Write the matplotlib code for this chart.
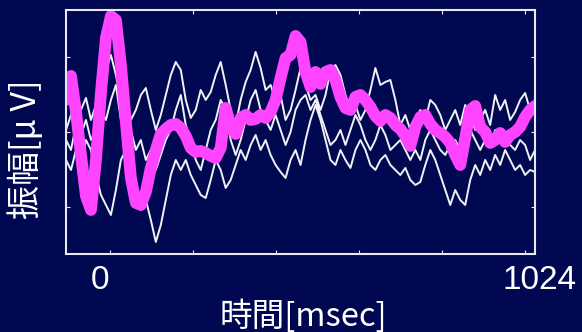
import numpy as np
import matplotlib
matplotlib.use("Agg")
import matplotlib.pyplot as plt

plt.rcParams["font.family"] = ["Noto Sans CJK JP", "DejaVu Sans"]

# time axis [msec] and amplitudes [uV]
t_start, t_end = -80, 1024

white_1 = [0.5, 2.0, 3.5, 2.5, 3.7, 1.5, 3.0, 4.5, 6.5, 8.0, 6.0, 3.5, 4.5, 1.5, 2.5, 4.0,
           4.7, 2.5, 0.5, 2.0, 4.0, 6.0, 7.3, 6.5, 3.5, 1.7, 2.5, 4.5, 3.5, 4.3, 6.0, 7.3,
           5.0, 2.5, 1.0, 3.5, 5.3, 6.5, 8.3, 6.7, 4.5, 5.0, 3.5, 4.0, 1.5, 2.5, 4.5, 6.7,
           5.0, 3.5, 4.0, 2.5, 4.0, 6.5, 7.0, 6.0, 4.0, 2.5, 3.0, 1.5, 2.5, 4.5, 6.7, 5.0,
           5.3, 5.5, 3.5, 1.0, 2.0, 0.5, 1.5, 2.5, 1.5, 3.5, 3.0, 2.0, 0.5, 1.5, 2.5, 1.0,
           3.0, 2.0, 0.5, 1.5, 2.5, 1.0, 4.0, 2.5, 3.5, 1.5, 2.3, 3.5, 4.2, 2.5, 3.0]

white_2 = [-2.5, -3.5, -1.5, -3.0, -0.5, -1.5, -4.0, -6.0, -7.0, -8.0, -5.5, -2.5, -1.5,
           -3.0, -5.5, -7.5, -6.5, -8.5, -10.7, -9.0, -6.5, -4.0, -2.5, -3.5, -2.5, -4.0,
           -5.0, -6.0, -6.3, -4.5, -2.5, -3.5, -5.3, -4.5, -3.0, -1.5, -2.5, -1.0, 0.0,
           -1.5, -0.5, -2.0, -3.0, -3.7, -4.3, -2.5, -1.5, -3.0, -0.5, 1.5, 3.0, 1.5, -0.5,
           -2.5, -3.0, -1.5, -2.5, -3.3, -1.5, -0.5, -1.5, -3.0, -3.5, -2.5, -2.0, -3.0,
           -3.5, -4.0, -3.3, -4.5, -5.0, -4.7, -3.0, -1.5, -2.5, -4.0, -5.5, -7.0, -5.5,
           -6.5, -7.0, -4.5, -3.0, -4.0, -2.5, -3.5, -2.0, -3.0, -1.5, -2.5, -3.5, -3.0,
           -4.0, -3.5, -3.7]

white_3 = [-0.5, -1.5, 1.0, 0.0, 1.5, -0.5, 0.5, 2.5, 1.5, 3.5, 5.0, 1.5, -0.5, 0.5,
           -1.5, -0.5, -2.5, -1.5, -3.5, -2.0, -0.5, 0.5, 2.5, 4.0, 1.0, -0.5, -2.5, -3.5,
           -1.5, 0.5, 1.5, 3.5, 2.5, -0.5, -2.0, -0.5, 1.5, 3.5, 4.5, 2.5, 1.5, 0.5, 2.0,
           0.5, -1.0, 0.3, 2.5, 3.5, 4.0, 2.5, 3.5, 2.0, 0.5, -1.0, -0.5, 0.5, -1.0, 0.5,
           2.0, 1.0, -0.5, -1.5, -0.5, 1.0, 0.0, -1.5, -1.0, -0.5, -1.5, -2.5, -1.5, -2.5,
           -0.5, 0.5, -0.5, -1.5, -2.0, -1.0, -0.5, -1.5, -0.5, 0.5, -0.5, -1.5, -0.5, -1.0,
           0.5, -0.5, 0.0, -1.0, -1.5, -0.5, -1.0, -2.5, -1.5]

average = [3.5, 5.9, 2.3, -2.0, -6.1, -7.5, -2.5, 4.2, 9.7, 11.9, 11.5, 7.0, 1.3, -4.3,
           -6.8, -7.0, -5.7, -3.3, -1.5, 0.1, 0.6, 1.0, 1.1, 0.7, -0.1, -1.3, -1.7, -1.6,
           -1.8, -2.1, -2.3, -1.3, 2.7, 0.8, 0.1, 1.7, 2.0, 1.5, 1.6, 2.0, 1.7, 2.3, 3.5,
           5.7, 7.7, 8.0, 9.9, 9.3, 6.3, 4.8, 6.3, 5.1, 6.3, 6.5, 5.5, 3.8, 2.7, 2.5, 3.8,
           4.0, 3.5, 2.8, 1.9, 1.4, 2.0, 1.7, 1.0, 0.6, -0.1, -1.1, 0.8, 1.8, 2.0, 1.1, 0.5,
           0.2, -0.2, -0.8, -2.0, -3.0, -0.3, 2.5, 2.9, 0.8, 0.3, -0.8, -0.5, 0.2, -0.7, 0.0,
           0.3, 0.8, 1.8, 2.5, 2.9]

x_ticks = [24, 219, 414, 609, 805, 1000]
y_ticks = [-7.2, 0.3, 7.8]

bg = "#000852"

fig = plt.figure(figsize=(5.82, 3.32), dpi=100, facecolor=bg)
ax = fig.add_axes([0.1134, 0.235, 0.806, 0.735], facecolor=bg)

for w in (white_1, white_2, white_3):
    t = np.linspace(t_start, t_end, len(w))
    ax.plot(t, w, color="white", lw=1.4, alpha=0.95)

t = np.linspace(t_start, t_end, len(average))
ax.plot(t, average, color="#ff44ff", lw=8.5, solid_joinstyle="round",
        solid_capstyle="round")

ax.set_xlim(t_start, t_end)
ax.set_ylim(-11.9, 12.5)

for s in ax.spines.values():
    s.set_color("#e8e8f0")
    s.set_linewidth(1.5)

ax.set_xticks(x_ticks)
ax.set_yticks(y_ticks)
ax.tick_params(direction="in", length=3, color="#e8e8f0", top=True, right=True,
               labelbottom=False, labelleft=False)

ax.text(0, -0.045, "0", transform=ax.get_xaxis_transform(), ha="center", va="top",
        color="white", fontsize=24, family="Liberation Sans")
ax.text(1034, -0.045, "1024", transform=ax.get_xaxis_transform(), ha="center", va="top",
        color="white", fontsize=24, family="Liberation Sans")

fig.text(0.521, 0.018, "時間[msec]", color="white", fontsize=23.5,
         ha="center", va="baseline")
fig.text(0.045, 0.551, "振幅[μ V]", color="white", fontsize=24.5,
         ha="center", va="center", rotation=90)

fig.savefig("out.png", dpi=100, facecolor=bg)
